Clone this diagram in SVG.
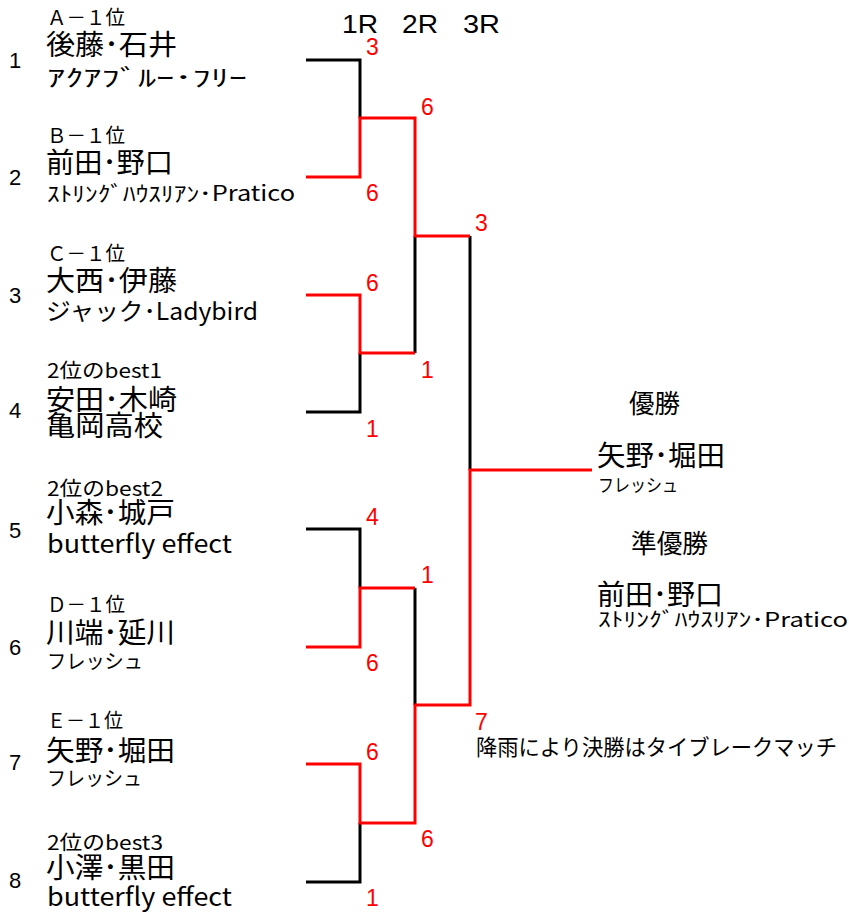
<svg xmlns="http://www.w3.org/2000/svg" width="849" height="914" viewBox="0 0 849 914">
<style>
text{fill:#000}
.j{font-family:"Noto Sans CJK JP","Liberation Sans",sans-serif}
.num{font-family:"Liberation Sans",sans-serif;font-size:22px}
.lab{font-size:20px}
.nm{font-size:28px}
.hd{font-family:"Liberation Sans",sans-serif;font-size:25px}
.sc{font-family:"Liberation Sans",sans-serif;font-size:23px;fill:#f00}
.ln{fill:none;stroke-width:3;stroke-linejoin:miter;stroke-linecap:butt}
.k{stroke:#000}
.r{stroke:#f00}
</style>
<rect width="849" height="914" fill="#fff"/>
<g id="headers">
<text class="hd" x="342" y="33" textLength="36" lengthAdjust="spacingAndGlyphs">1R</text>
<text class="hd" x="402" y="33" textLength="36" lengthAdjust="spacingAndGlyphs">2R</text>
<text class="hd" x="463" y="33" textLength="37" lengthAdjust="spacingAndGlyphs">3R</text>
</g>
<g id="connectors">
<path class="ln k" d="M306,60 H360 V118"/>
<path class="ln k" d="M306,412 H360 V353"/>
<path class="ln k" d="M415,236 V353"/>
<path class="ln k" d="M306,529 H360 V588"/>
<path class="ln k" d="M415,588 V705"/>
<path class="ln k" d="M470,236 V470"/>
<path class="ln k" d="M306,882 H360 V823"/>
<path class="ln r" d="M306,177 H360 V118 H415 V236 H470"/>
<path class="ln r" d="M306,295 H360 V353 H415"/>
<path class="ln r" d="M306,647 H360 V588 H415"/>
<path class="ln r" d="M306,764 H360 V823 H415 V705 H470 V470 H592"/>
</g>
<g id="scores">
<text class="sc" x="366" y="55">3</text>
<text class="sc" x="366" y="201">6</text>
<text class="sc" x="421" y="115">6</text>
<text class="sc" x="475" y="231">3</text>
<text class="sc" x="366" y="291">6</text>
<text class="sc" x="366" y="437">1</text>
<text class="sc" x="421" y="378">1</text>
<text class="sc" x="366" y="525">4</text>
<text class="sc" x="366" y="671">6</text>
<text class="sc" x="421" y="583">1</text>
<text class="sc" x="475" y="730">7</text>
<text class="sc" x="366" y="760">6</text>
<text class="sc" x="366" y="906">1</text>
<text class="sc" x="421" y="847">6</text>
</g>
<g id="team1">
<text class="num" x="9" y="68">1</text>
<text class="j lab" x="47" y="25" textLength="78" lengthAdjust="spacingAndGlyphs">Ａ－１位</text>
<text class="j nm" x="46" y="55" textLength="131" lengthAdjust="spacingAndGlyphs">後藤･石井</text>
<text class="j" x="47" y="86" font-size="23" textLength="200" lengthAdjust="spacingAndGlyphs">ｱｸｱﾌﾞﾙｰ･ﾌﾘｰ</text>
</g>
<g id="team2">
<text class="num" x="9" y="185">2</text>
<text class="j lab" x="47" y="143" textLength="78" lengthAdjust="spacingAndGlyphs">Ｂ－１位</text>
<text class="j nm" x="46" y="173" textLength="127" lengthAdjust="spacingAndGlyphs">前田･野口</text>
<text class="j" x="47" y="201" font-size="21" textLength="248" lengthAdjust="spacingAndGlyphs">ｽﾄﾘﾝｸﾞﾊｳｽﾘｱﾝ･Pratico</text>
</g>
<g id="team3">
<text class="num" x="9" y="303">3</text>
<text class="j lab" x="47" y="261" textLength="78" lengthAdjust="spacingAndGlyphs">Ｃ－１位</text>
<text class="j nm" x="46" y="291" textLength="131" lengthAdjust="spacingAndGlyphs">大西･伊藤</text>
<text class="j" x="46" y="320" font-size="24" textLength="212" lengthAdjust="spacingAndGlyphs">ジャック･Ladybird</text>
</g>
<g id="team4">
<text class="num" x="9" y="418">4</text>
<text class="j lab" x="47" y="378" textLength="115" lengthAdjust="spacingAndGlyphs">2位のbest1</text>
<text class="j nm" x="46" y="410" textLength="131" lengthAdjust="spacingAndGlyphs">安田･木崎</text>
<text class="j" x="46" y="436" font-size="28" textLength="117" lengthAdjust="spacingAndGlyphs">亀岡高校</text>
</g>
<g id="team5">
<text class="num" x="9" y="538">5</text>
<text class="j lab" x="47" y="496" textLength="116" lengthAdjust="spacingAndGlyphs">2位のbest2</text>
<text class="j nm" x="46" y="523" textLength="129" lengthAdjust="spacingAndGlyphs">小森･城戸</text>
<text class="j" x="47" y="553" font-size="25" textLength="185" lengthAdjust="spacingAndGlyphs">butterfly effect</text>
</g>
<g id="team6">
<text class="num" x="9" y="655">6</text>
<text class="j lab" x="47" y="612" textLength="78" lengthAdjust="spacingAndGlyphs">Ｄ－１位</text>
<text class="j nm" x="46" y="643" textLength="129" lengthAdjust="spacingAndGlyphs">川端･延川</text>
<text class="j" x="47" y="669" font-size="20" textLength="96" lengthAdjust="spacingAndGlyphs">フレッシュ</text>
</g>
<g id="team7">
<text class="num" x="9" y="770">7</text>
<text class="j lab" x="47" y="728" textLength="76" lengthAdjust="spacingAndGlyphs">Ｅ－１位</text>
<text class="j nm" x="46" y="761" textLength="129" lengthAdjust="spacingAndGlyphs">矢野･堀田</text>
<text class="j" x="47" y="786" font-size="20" textLength="95" lengthAdjust="spacingAndGlyphs">フレッシュ</text>
</g>
<g id="team8">
<text class="num" x="9" y="888">8</text>
<text class="j lab" x="47" y="850" textLength="116" lengthAdjust="spacingAndGlyphs">2位のbest3</text>
<text class="j nm" x="46" y="878" textLength="129" lengthAdjust="spacingAndGlyphs">小澤･黒田</text>
<text class="j" x="47" y="906" font-size="25" textLength="185" lengthAdjust="spacingAndGlyphs">butterfly effect</text>
</g>
<g id="winner">
<text class="j" x="629" y="413" font-size="26" textLength="51" lengthAdjust="spacingAndGlyphs">優勝</text>
<text class="j nm" x="597" y="466" textLength="128" lengthAdjust="spacingAndGlyphs">矢野･堀田</text>
<text class="j" x="598" y="492" font-size="18" textLength="80" lengthAdjust="spacingAndGlyphs">フレッシュ</text>
</g>
<g id="runnerup">
<text class="j" x="631" y="553" font-size="26" textLength="77" lengthAdjust="spacingAndGlyphs">準優勝</text>
<text class="j nm" x="597" y="605" textLength="126" lengthAdjust="spacingAndGlyphs">前田･野口</text>
<text class="j" x="598" y="627" font-size="20" textLength="250" lengthAdjust="spacingAndGlyphs">ｽﾄﾘﾝｸﾞﾊｳｽﾘｱﾝ･Pratico</text>
</g>
<g id="note">
<text class="j" x="476" y="755" font-size="22" textLength="361" lengthAdjust="spacingAndGlyphs">降雨により決勝はタイブレークマッチ</text>
</g>
</svg>
